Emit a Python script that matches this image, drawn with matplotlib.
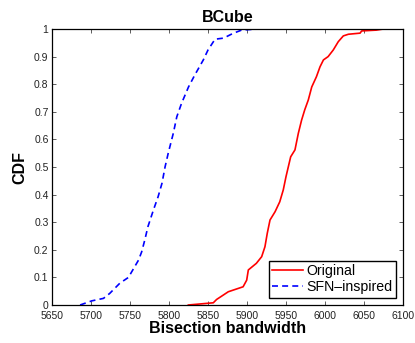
import matplotlib
matplotlib.use("Agg")
import matplotlib.pyplot as plt

# SFN-inspired (blue dashed) CDF knots
sfn_x = [5686, 5701, 5716, 5724, 5737, 5748, 5761, 5765, 5769, 5773, 5780, 5786,
         5791, 5795, 5799, 5805.5, 5810, 5816, 5825, 5833, 5844, 5850, 5859, 5870,
         5882, 5893, 5914.5]
sfn_y = [0.0, 0.015, 0.024, 0.042, 0.079, 0.10, 0.163, 0.193, 0.236, 0.284, 0.344,
         0.392, 0.441, 0.501, 0.55, 0.622, 0.682, 0.73, 0.79, 0.833, 0.888, 0.924,
         0.963, 0.967, 0.984, 0.996, 1.0]

# Original (red solid) CDF knots
orig_x = [5824.8, 5856.8, 5861, 5869.6, 5876, 5895, 5899.6, 5901.7, 5912, 5918.8,
          5923, 5926, 5929.5, 5936, 5942, 5946.5, 5950, 5953, 5956, 5961.5, 5965.8,
          5970, 5974, 5978.6, 5983, 5989, 5993.6, 5998, 6004, 6010.6, 6017, 6023.5,
          6030, 6045, 6047, 6066, 6075]
orig_y = [0.0, 0.008, 0.02, 0.036, 0.048, 0.066, 0.09, 0.127, 0.151, 0.175, 0.211,
          0.26, 0.308, 0.338, 0.374, 0.417, 0.465, 0.501, 0.537, 0.562, 0.622, 0.67,
          0.707, 0.743, 0.79, 0.827, 0.863, 0.888, 0.90, 0.924, 0.954, 0.975, 0.981,
          0.985, 0.993, 0.996, 1.0]

xticks = [5650, 5700, 5750, 5800, 5850, 5900, 5950, 6000, 6050, 6100]
yticks = [0, 0.1, 0.2, 0.3, 0.4, 0.5, 0.6, 0.7, 0.8, 0.9, 1]
ytick_labels = ["0", "0.1", "0.2", "0.3", "0.4", "0.5", "0.6", "0.7", "0.8", "0.9", "1"]

plt.rcParams['font.family'] = ['Liberation Sans', 'DejaVu Sans']
plt.rcParams['lines.scale_dashes'] = False

fig = plt.figure(figsize=(4.15, 3.43), dpi=100)
ax = fig.add_axes([52/415, 38/343, 351/415, 276/343])

ax.plot(orig_x, orig_y, color='#ff0000', lw=1.2, label='Original')
ax.plot(sfn_x, sfn_y, color='#0000ff', lw=1.2, dashes=(4.3, 3), label='SFN\u2013inspired')

ax.set_xlim(5650, 6100)
ax.set_ylim(0, 1)
ax.set_xticks(xticks)
ax.set_xticklabels([str(t) for t in xticks])
ax.set_yticks(yticks)
ax.set_yticklabels(ytick_labels)
ax.tick_params(direction='in', length=3, width=0.6, top=True, right=True,
               labelsize=7.5, color='#444444', labelcolor='#222222')
ax.tick_params(axis='x', pad=4.5)
ax.tick_params(axis='y', pad=2.5)
for s in ax.spines.values():
    s.set_linewidth(0.9)
    s.set_color('black')

ax.set_title('BCube', fontsize=11.5, fontweight='bold', pad=5)
ax.set_xlabel('Bisection bandwidth', fontsize=11.5, fontweight='bold', labelpad=0)
ax.set_ylabel('CDF', fontsize=11.5, fontweight='bold', labelpad=5)

leg = ax.legend(loc='lower right', fontsize=10.2, fancybox=False, framealpha=1,
                edgecolor='black', handlelength=2.2, handletextpad=0.2,
                borderpad=0.25, labelspacing=0.15, borderaxespad=0.5)
leg.get_frame().set_linewidth(1.0)

fig.savefig('out.png', dpi=100)
